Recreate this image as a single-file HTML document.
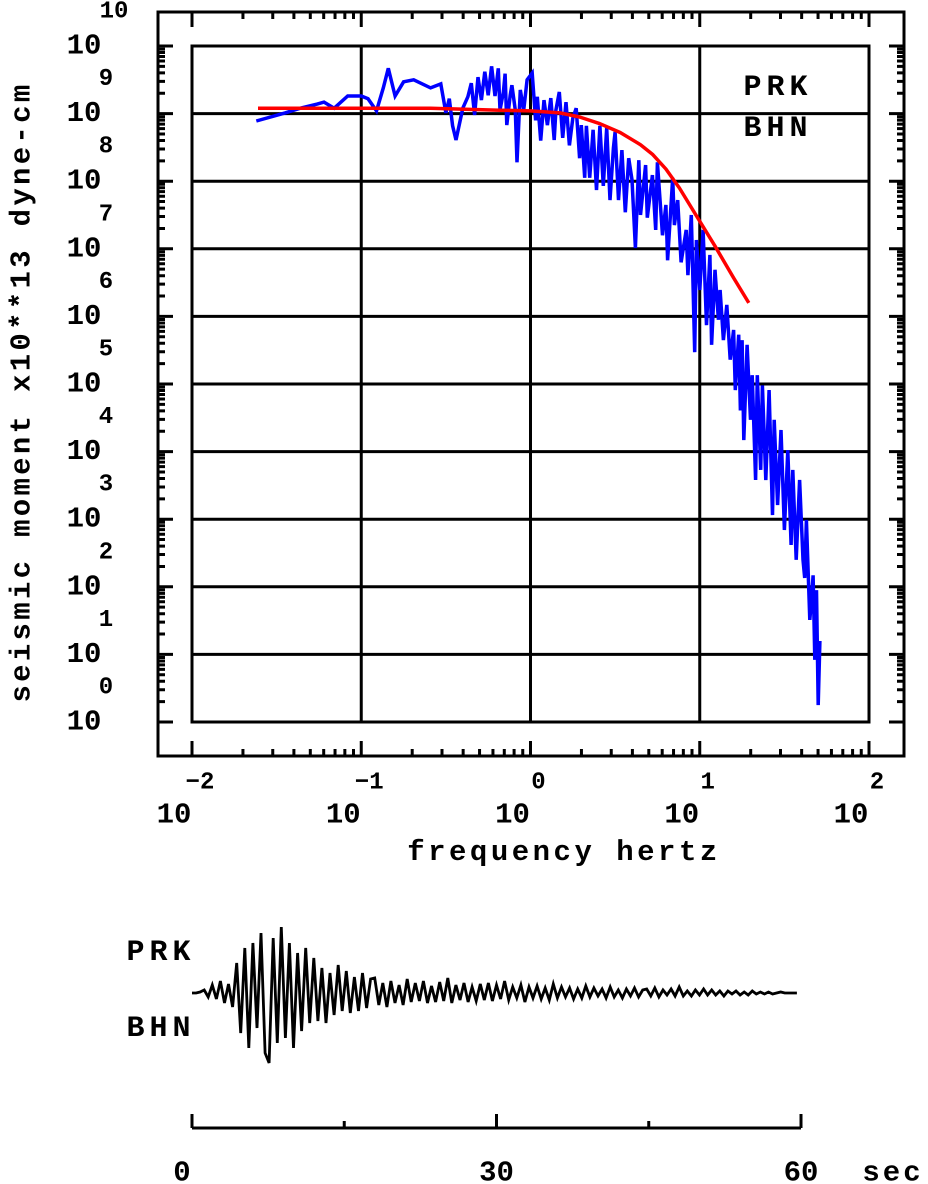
<!DOCTYPE html>
<html><head><meta charset="utf-8"><style>
html,body{margin:0;padding:0;background:#fff;}
svg{display:block;}
text{font-family:"Liberation Mono",monospace;font-weight:bold;fill:#000;}
</style></head><body>
<svg id="chart" width="928" height="1184" viewBox="0 0 928 1184" xmlns="http://www.w3.org/2000/svg">
<g id="frame"></g>
<g id="grid"></g>
<g id="ticks"></g>
<g id="labels"></g>
<g id="series"></g>
<text transform="translate(22,392) rotate(-90)" text-anchor="middle" dominant-baseline="middle" font-size="29" letter-spacing="3.3">seismic moment x10**13 dyne-cm</text>
<text x="564" y="860" text-anchor="middle" font-size="29" letter-spacing="3.5">frequency  hertz</text>
<text x="778" y="95" text-anchor="middle" font-size="30" letter-spacing="5">PRK</text>
<text x="778" y="136" text-anchor="middle" font-size="30" letter-spacing="5">BHN</text>
<text x="161" y="960" text-anchor="middle" font-size="30" letter-spacing="5">PRK</text>
<text x="161" y="1036" text-anchor="middle" font-size="30" letter-spacing="5">BHN</text>
<g id="trace"></g>
<g id="taxis"></g>
</svg>
<script>
// ---- data ----
const xTickExps = ["−2","−1","0","1","2"];
const xDecades = [-2,-1,0,1,2];
const yDecades = [0,1,2,3,4,5,6,7,8,9,10];
const yTickExps = ["0","1","2","3","4","5","6","7","8","9","10"];
const blueLogF = [-1.62,-1.45,-1.36,-1.26,-1.22,-1.16,-1.08,-1.0,-0.96,-0.91,-0.87,-0.84,-0.80,-0.75,-0.69,-0.59,-0.53,-0.50,-0.48,-0.46,-0.44,-0.40,-0.37,-0.35,-0.33,-0.31,-0.29,-0.27,-0.25,-0.23,-0.21,-0.19,-0.18,-0.16,-0.15,-0.14,-0.12,-0.11,-0.09,-0.08,-0.06,-0.04,-0.02,
0.01,0.03,0.04,0.06,0.08,0.10,0.12,0.14,0.15,0.17,0.19,0.21,0.23,0.25,0.27,0.29,0.30,0.32,0.33,0.35,0.37,0.39,0.41,0.43,0.45,0.47,0.49,0.50,0.52,0.54,0.56,0.58,0.60,0.62,0.64,0.65,0.68,0.69,0.72,0.74,0.75,0.78,0.80,0.81,0.84,0.85,0.87,0.89,0.92,0.93,0.95,0.97,0.98,1.00,1.02,1.04,1.06,1.07,1.09,
1.11,1.12,1.14,1.16,1.18,1.20,1.21,1.23,1.24,1.25,1.26,1.28,1.30,1.31,1.33,1.34,1.36,1.37,1.39,1.41,1.43,1.44,1.46,1.48,1.50,1.52,1.54,1.55,1.57,1.59,1.61,1.62,1.63,1.65,1.66,1.67,1.68,1.69,1.70,1.71];
const blueLogM = [8.89,9.01,9.08,9.14,9.17,9.08,9.26,9.26,9.22,9.04,9.38,9.67,9.26,9.47,9.50,9.38,9.44,9.01,9.22,8.82,8.61,9.08,9.25,9.45,8.98,9.54,9.20,9.62,9.27,9.70,9.26,9.67,9.05,9.32,9.59,8.83,9.27,9.42,9.05,8.28,9.35,9.05,9.50,
9.60,8.90,9.25,8.60,9.20,8.83,9.23,8.61,9.05,9.32,8.64,9.17,8.53,8.93,9.08,8.34,8.83,8.05,8.82,8.05,8.76,7.87,8.82,7.93,8.79,7.72,8.49,8.73,7.72,8.46,7.54,8.34,8.02,7.01,8.31,7.50,8.24,7.46,8.09,7.28,8.28,7.20,7.65,6.83,8.05,7.35,7.72,6.80,7.28,6.61,7.50,5.47,7.13,6.39,7.28,5.87,6.91,5.58,6.69,
5.95,6.39,5.65,6.17,5.36,5.80,4.91,5.73,4.61,5.65,4.17,5.58,4.47,5.13,3.58,5.13,3.73,4.98,3.58,4.91,3.06,4.47,3.21,4.32,2.84,4.02,2.62,3.73,2.40,3.58,2.40,2.13,2.99,1.51,1.80,2.17,0.92,1.95,0.25,1.20];
const redLogF = [-1.61,-0.59,-0.18,0.0,0.174,0.29,0.41,0.53,0.65,0.72,0.80,0.88,0.97,1.09,1.20,1.29];
const redLogM = [9.08,9.08,9.05,9.04,9.01,8.95,8.85,8.72,8.54,8.40,8.18,7.90,7.53,7.04,6.57,6.20];
const traceDt = 0.4;
const traceAmp = [0,0,1,
3,-4,8,-6,12,-10,9,-14,
30,-40,45,-55,50,-35,60,-60,-70,
55,-50,66,-45,50,-55,40,-38,45,-30,
35,-28,25,-30,20,-22,28,-18,22,-20,16,-18,20,-15,14,
15,-12,10,-14,12,-10,8,-12,14,-9,10,-8,12,-10,7,-9,11,-8,15,-10,8,-7,10,-9,6,-8,9,-7,10,-8,
8,-6,12,-7,6,-5,8,-9,6,-5,7,-6,5,-7,9,-5,6,-4,5,-6,4,-5,7,-4,5,-3,4,-5,6,-4,3,-5,4,-3,5,-4,3,
4,-3,5,-4,3,-2,4,-3,6,-3,2,-3,3,-2,4,-2,3,-2,2,-3,2,-1,2,-2,1,-2,2,-1,1,-1,1,-1,0,1,0,0,0,0];
const timeTicks = [0,15,30,45,60];
const timeLabels = ["0","30","60"];
const timeLabelVals = [0,30,60];

// ---- scales ----
const X0=192, X1=869, Y0=722, Y1=46;
const xs = lf => X0 + (lf+2)/4*(X1-X0);
const ys = lm => Y0 - lm/10*(Y0-Y1);
const OL=158, OT=12, OR=904, OB=756;
const ts = t => 192 + t/60*(801-192);
const TB = 993;
const NS="http://www.w3.org/2000/svg";
function mk(tag, parent, attrs){const e=document.createElementNS(NS,tag);for(const k in attrs)e.setAttribute(k,attrs[k]);parent.appendChild(e);return e;}

const frame=document.getElementById('frame');
let r=mk('rect',frame,{x:OL,y:OT,width:OR-OL,height:OB-OT,fill:'none',stroke:'#000','stroke-width':3});


r=mk('rect',frame,{x:X0,y:Y1,width:X1-X0,height:Y0-Y1,fill:'none',stroke:'#000','stroke-width':3});



const grid=document.getElementById('grid');
yDecades.forEach(d=>{const l=mk('line',grid,{x1:X0,x2:X1,y1:ys(d),y2:ys(d),stroke:'#000','stroke-width':3});

});
xDecades.forEach(d=>{const l=mk('line',grid,{x1:xs(d),x2:xs(d),y1:Y1,y2:Y0,stroke:'#000','stroke-width':3});

});

const ticks=document.getElementById('ticks');
let tp='';
const minors=[2,3,4,5,6,7,8,9];
xDecades.forEach(d=>{
  const x=xs(d);
  tp+=`M${x} ${OB}V${OB-15}M${x} ${OT}V${OT+15}`;
  if(d<2) minors.forEach(m=>{const xm=xs(d+Math.log10(m));tp+=`M${xm} ${OB}V${OB-7}M${xm} ${OT}V${OT+7}`;});
});
yDecades.forEach(d=>{
  const y=ys(d);
  tp+=`M${OL} ${y}H${OL+15}M${OR} ${y}H${OR-15}`;
  if(d<10) minors.forEach(m=>{const ym=ys(d+Math.log10(m));tp+=`M${OL} ${ym}H${OL+7}M${OR} ${ym}H${OR-7}`;});
});
const tk=mk('path',ticks,{d:tp,stroke:'#000','stroke-width':3,fill:'none'});



const labels=document.getElementById('labels');
yDecades.forEach((d,i)=>{
  const y=ys(d);
  let t=mk('text',labels,{x:84,y:y,'text-anchor':'middle','dominant-baseline':'central','font-size':29});
  t.textContent='10';
  
  
  t=mk('text',labels,{x:yTickExps[i].length>1?114:106,y:y-34,'text-anchor':'middle','dominant-baseline':'central','font-size':24});
  t.textContent=yTickExps[i];
  
  
});
xDecades.forEach((d,i)=>{
  const x=xs(d);
  let t=mk('text',labels,{x:x-18,y:815,'text-anchor':'middle','dominant-baseline':'central','font-size':29});
  t.textContent='10';
  
  
  t=mk('text',labels,{x:x+8,y:783,'text-anchor':'middle','dominant-baseline':'central','font-size':24});
  t.textContent=xTickExps[i];
  
  
});

const series=document.getElementById('series');
let bp=blueLogF.map((f,i)=>(i?'L':'M')+xs(f).toFixed(1)+' '+ys(blueLogM[i]).toFixed(1)).join('');
const bl=mk('path',series,{d:bp,stroke:'#0000ff','stroke-width':3.5,fill:'none','stroke-linejoin':'miter'});


let rp=redLogF.map((f,i)=>(i?'L':'M')+xs(f).toFixed(1)+' '+ys(redLogM[i]).toFixed(1)).join('');
const rl=mk('path',series,{d:rp,stroke:'#ff0000','stroke-width':3.5,fill:'none','stroke-linejoin':'round'});



const trace=document.getElementById('trace');
let trp=traceAmp.map((a,i)=>(i?'L':'M')+ts(i*traceDt).toFixed(1)+' '+(TB-a).toFixed(1)).join('');
const tl=mk('path',trace,{d:trp,stroke:'#000','stroke-width':2.8,fill:'none'});



const taxis=document.getElementById('taxis');
let ap=`M${ts(0)} 1128H${ts(60)}`;
timeTicks.forEach((t,i)=>{ap+=`M${ts(t)} 1128V${i%2?1121:1114}`;});
const al=mk('path',taxis,{d:ap,stroke:'#000','stroke-width':3,fill:'none'});


timeLabelVals.forEach((v,i)=>{
  const t=mk('text',taxis,{x:ts(v)-(i===0?10:0),y:1173,'text-anchor':'middle','dominant-baseline':'central','font-size':29});
  t.textContent=timeLabels[i];
  
  
});
const sec=mk('text',taxis,{x:893,y:1173,'text-anchor':'middle','dominant-baseline':'central','font-size':29,'letter-spacing':3});
sec.textContent='sec';


</script>
</body></html>
